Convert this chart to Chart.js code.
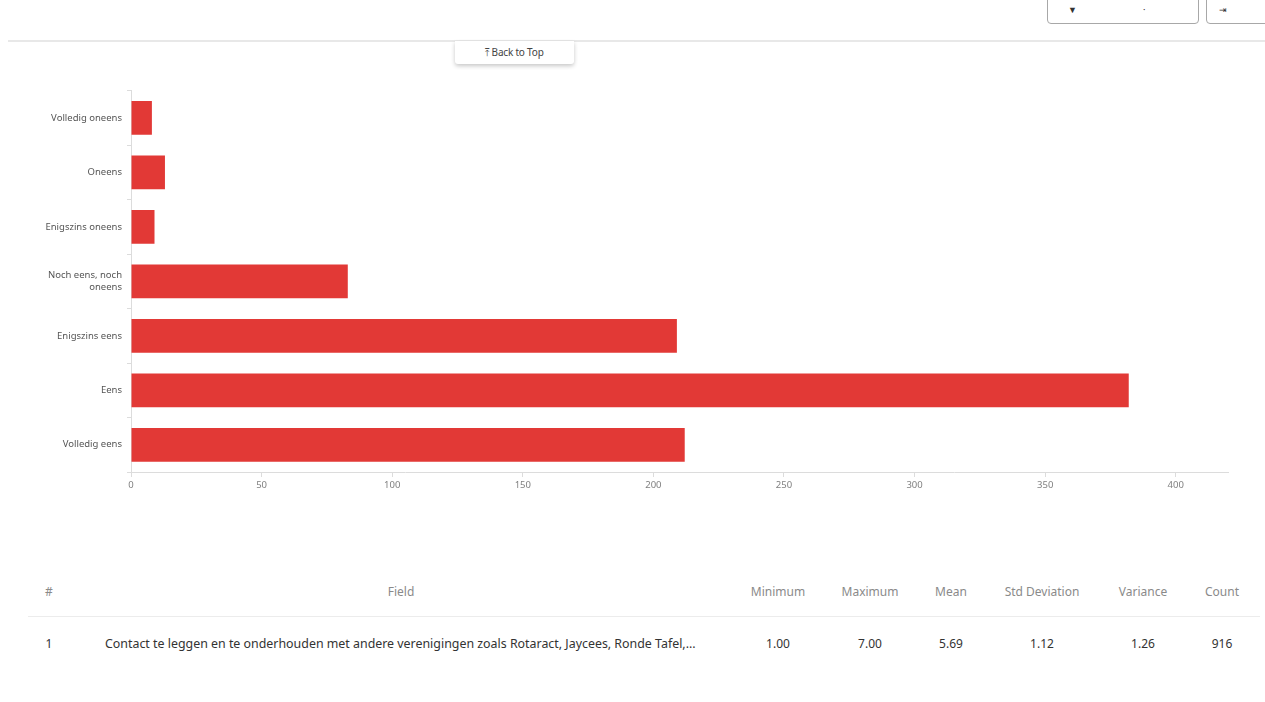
<!DOCTYPE html>
<html>
<head>
<meta charset="utf-8">
<script src="https://cdn.jsdelivr.net/npm/chart.js@4.4.1/dist/chart.umd.min.js"></script>
<style>
  html, body { margin: 0; padding: 0; background: #fff; }
  body { width: 1265px; height: 702px; position: relative; overflow: hidden; font-family: "Noto Sans", "Open Sans", sans-serif; }
  .topline { position: absolute; left: 8px; top: 40px; width: 1257px; height: 2px; background: #e8e8e8; }
  .btn { position: absolute; top: -6px; height: 28px; border: 1px solid #a8a8a8; border-radius: 0 0 4px 4px; background: #fff; }
  .btn span { position: absolute; top: 10px; font-size: 9px; color: #333; line-height: 10px; }
  .backtop { position: absolute; left: 455px; top: 41px; width: 119px; height: 23px; background: #fff;
             box-shadow: 0 2px 4px rgba(0,0,0,0.22); border-radius: 0 0 3px 3px;
             font-size: 10px; color: #444; text-align: center; line-height: 23px; letter-spacing: -0.2px; }
  #wrap { position: absolute; left: 0; top: 80px; width: 1235px; height: 430px; }
  .cell { position: absolute; font-size: 12px; white-space: nowrap; transform: translateX(-50%); }
  .head { top: 583px; color: #8a8a8a; }
  .row { top: 635px; color: #333; }
  .row.field { font-size: 12.4px; }
  .sep { position: absolute; left: 28px; top: 616px; width: 1232px; height: 1px; background: #ececec; }
</style>
</head>
<body>
<div class="topline"></div>
<div class="btn" style="left:1047px; width:150px;"><span style="left:20px;">&#9660;</span><span style="left:95px;">&#183;</span></div>
<div class="btn" style="left:1206px; width:70px;"><span style="left:12px;">&#8677;</span></div>
<div class="backtop">&#10514; Back to Top</div>

<div id="wrap"><canvas id="chart"></canvas></div>

<div id="table"></div>

<script>
// Response categories (top to bottom) and number of answers per category
const categories = [
  'Volledig oneens',
  'Oneens',
  'Enigszins oneens',
  ['Noch eens, noch', 'oneens'],
  'Enigszins eens',
  'Eens',
  'Volledig eens'
];
const counts = [8, 13, 9, 83, 209, 382, 212];
// Score attached to each category (1 = Volledig oneens ... 7 = Volledig eens)
const scores = [1, 2, 3, 4, 5, 6, 7];
const xTicks = [0, 50, 100, 150, 200, 250, 300, 350, 400];

const tableHeaders = ['#', 'Field', 'Minimum', 'Maximum', 'Mean', 'Std Deviation', 'Variance', 'Count'];
const fieldLabel = 'Contact te leggen en te onderhouden met andere verenigingen zoals Rotaract, Jaycees, Ronde Tafel,...';

// Summary statistics derived from the counts
const n = counts.reduce((a, b) => a + b, 0);
const answered = scores.filter((s, i) => counts[i] > 0);
const mean = scores.reduce((a, s, i) => a + s * counts[i], 0) / n;
const ss = scores.reduce((a, s, i) => a + counts[i] * (s - mean) * (s - mean), 0);
const variance = ss / (n - 1);
const rowValues = ['1', fieldLabel,
  Math.min(...answered).toFixed(2), Math.max(...answered).toFixed(2),
  mean.toFixed(2), Math.sqrt(variance).toFixed(2), variance.toFixed(2), String(n)];

// Build the statistics table
const colX = [49, 401, 778, 870, 951, 1042, 1143, 1222];
const table = document.getElementById('table');
tableHeaders.forEach((h, i) => {
  const d = document.createElement('div');
  d.className = 'cell head';
  d.style.left = colX[i] + 'px';
  d.textContent = h;
  table.appendChild(d);
});
const sep = document.createElement('div');
sep.className = 'sep';
table.appendChild(sep);
rowValues.forEach((v, i) => {
  const d = document.createElement('div');
  d.className = 'cell row';
  if (i === 1) { d.className += ' field'; d.style.left = '105px'; d.style.transform = 'none'; }
  else d.style.left = colX[i] + 'px';
  d.textContent = v;
  table.appendChild(d);
});

const axisColor = '#dcdcdc';
const labelFont = { family: '"Noto Sans", sans-serif', size: 9.5 };

new Chart(document.getElementById('chart'), {
  type: 'bar',
  data: {
    labels: categories,
    datasets: [{
      data: counts,
      backgroundColor: '#e23936',
      borderWidth: 0,
      categoryPercentage: 1,
      barPercentage: 0.62
    }]
  },
  options: {
    indexAxis: 'y',
    responsive: true,
    maintainAspectRatio: false,
    animation: false,
    layout: { padding: { top: 10, right: 7, bottom: 0, left: 0 } },
    plugins: { legend: { display: false }, tooltip: { enabled: false } },
    scales: {
      x: {
        min: 0,
        max: 420,
        afterBuildTicks: (scale) => { scale.ticks = xTicks.map(v => ({ value: v })); },
        afterFit: (scale) => { scale.height = 38; },
        border: { display: true, color: axisColor },
        grid: { drawOnChartArea: false, color: axisColor, tickLength: 5 },
        ticks: { color: '#808080', font: labelFont, padding: 3 }
      },
      y: {
        afterFit: (scale) => { scale.width = 131; },
        border: { display: true, color: axisColor },
        grid: { drawOnChartArea: false, color: axisColor, tickLength: 4, offset: true },
        ticks: { color: '#555', font: labelFont, padding: 5 }
      }
    }
  }
});
</script>
</body>
</html>
